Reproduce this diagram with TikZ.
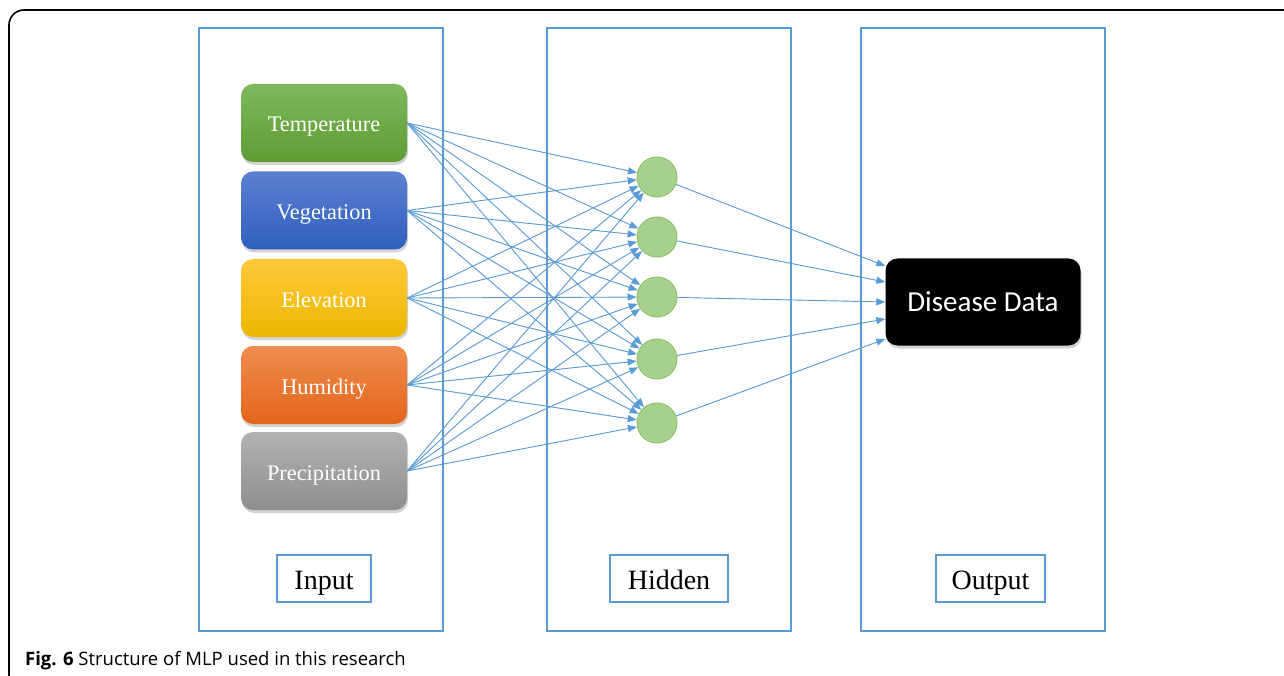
\documentclass[tikz,border=0pt]{standalone}
\usepackage{fontspec}
\setmainfont{Liberation Serif}
\newfontfamily\capfont{Open Sans}
\newfontfamily\ddfont{Carlito}
\usetikzlibrary{arrows.meta,shadows,calc}
\definecolor{lblue}{HTML}{5B9BD5}
\definecolor{gTop}{HTML}{7DB95C}
\definecolor{gBot}{HTML}{5E9C32}
\definecolor{bTop}{HTML}{5C80D0}
\definecolor{bBot}{HTML}{2F5FBE}
\definecolor{yTop}{HTML}{FFC83A}
\definecolor{yBot}{HTML}{EBB800}
\definecolor{oTop}{HTML}{F08C50}
\definecolor{oBot}{HTML}{E2651A}
\definecolor{pTop}{HTML}{B2B2B2}
\definecolor{pBot}{HTML}{8E8E8E}
\definecolor{cFill}{HTML}{A8D08D}
\definecolor{cDraw}{HTML}{8DC26F}
\tikzset{
  colbox/.style={draw=lblue,line width=1.4pt},
  lblbox/.style={draw=lblue,line width=1.4pt,fill=white,inner sep=0pt,
    font=\fontsize{28}{30}\selectfont,text height=21pt,text depth=0pt},
  inbox/.style={rounded corners=12pt,minimum width=166pt,minimum height=78pt,inner sep=0pt,
    text=white,font=\fontsize{22.3}{24}\selectfont,text height=18pt,text depth=0pt,
    drop shadow={opacity=0.35,shadow xshift=1pt,shadow yshift=-3pt}},
  neuron/.style={circle,minimum size=40pt,inner sep=0pt,fill=cFill,draw=cDraw,line width=1pt},
  conn/.style={draw=lblue,line width=0.9pt,-{Triangle[length=9pt,width=7pt]},fill=lblue},
}
\begin{document}
\begin{tikzpicture}[x=1pt,y=-1pt]
\useasboundingbox (0,0) rectangle (1284,676);
\begin{scope}
\clip (0,0) rectangle (1284,676);
\draw[line width=1.6pt,rounded corners=15pt] (9,10) rectangle (1330,690);
\end{scope}
% columns
\node[colbox,minimum width=244pt,minimum height=603pt,inner sep=0pt] (cin) at (321,329.5) {};
\node[colbox,minimum width=244pt,minimum height=603pt,inner sep=0pt] (chid) at (669,329.5) {};
\node[colbox,minimum width=244pt,minimum height=603pt,inner sep=0pt] (cout) at (983,329.5) {};
% labels
\node[lblbox,minimum width=94pt,minimum height=47pt] (lin) at (324,578.5) {Input};
\node[lblbox,minimum width=118pt,minimum height=47pt] (lhid) at (669,578.5) {Hidden};
\node[lblbox,minimum width=109pt,minimum height=47pt] (lout) at (990.5,578.5) {Output};
% inputs
\node[inbox,top color=gTop,bottom color=gBot] (in1) at (324,123) {Temperature};
\node[inbox,top color=bTop,bottom color=bBot] (in2) at (324,210.5) {Vegetation};
\node[inbox,top color=yTop,bottom color=yBot] (in3) at (324,298) {Elevation};
\node[inbox,top color=oTop,bottom color=oBot] (in4) at (324,385) {Humidity};
\node[inbox,top color=pTop,bottom color=pBot] (in5) at (324,471) {Precipitation};
% hidden
\node[neuron] (h1) at (657,177) {};
\node[neuron] (h2) at (657,237) {};
\node[neuron] (h3) at (657,297) {};
\node[neuron] (h4) at (657,359) {};
\node[neuron] (h5) at (657,423) {};
% output
\node[rounded corners=12pt,minimum width=195pt,minimum height=87pt,inner sep=0pt,
  fill=black,text=white,font=\ddfont\fontsize{29}{30}\selectfont,text height=18pt,text depth=0pt,
  drop shadow={opacity=0.35,shadow xshift=1pt,shadow yshift=-3pt}] (out) at (983,302) {Disease Data};
\coordinate (o1) at ($(out.west)+(0,-36)$);
\coordinate (o2) at ($(out.west)+(0,-20)$);
\coordinate (o3) at ($(out.west)+(0,0)$);
\coordinate (o4) at ($(out.west)+(0,17)$);
\coordinate (o5) at ($(out.west)+(0,37)$);
% connections
\foreach \i in {1,...,5}{
  \foreach \j in {1,...,5}{
    \draw[conn] (in\i.east) -- (h\j);
  }
}
\foreach \j in {1,...,5}{
  \draw[conn] (h\j) -- (o\j);
}
% caption
\node[anchor=base west,inner sep=0pt,font=\capfont\fontsize{18.5}{20}\selectfont] (cap) at (25,665) {\textbf{Fig. 6} Structure of MLP used in this research};
\end{tikzpicture}
\end{document}
